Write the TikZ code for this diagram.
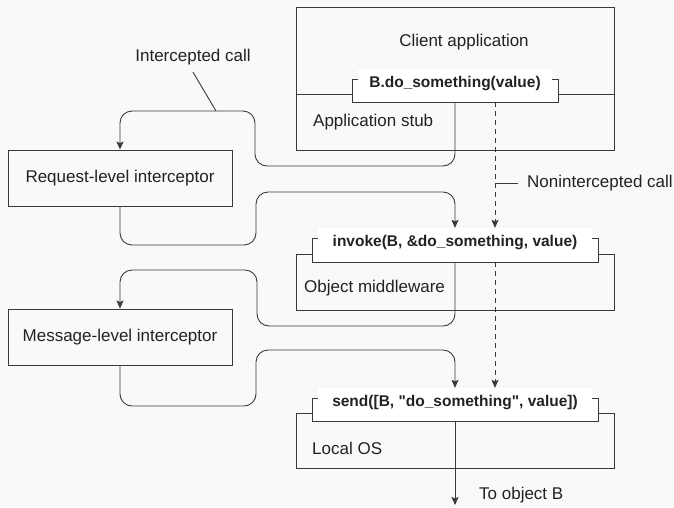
\documentclass[tikz,border=0pt]{standalone}
\usepackage{fontspec}
\setmainfont{Liberation Sans}
\usetikzlibrary{arrows.meta,positioning}

\definecolor{ink}{HTML}{222222}
\definecolor{wire}{HTML}{3A3A3A}
\definecolor{paper}{HTML}{F9F9F9}

\begin{document}
\begin{tikzpicture}[
    x=1pt, y=-1pt,
    layer/.style={draw=wire, line width=0.9pt, inner sep=0pt},
    callbox/.style={draw=wire, fill=white, line width=0.9pt, inner sep=0pt},
    calltxt/.style={fill=white, text=ink, inner xsep=0pt, inner ysep=3pt,
                    text height=15pt, text depth=3.5pt,
                    font=\fontsize{15.5}{18}\selectfont\bfseries},
    txt/.style={text=ink, inner sep=2pt, font=\fontsize{17}{20}\selectfont},
    arrow/.style={-{Stealth[length=8pt,width=7pt,inset=1.5pt]}, draw=wire,
                  line width=0.9pt, rounded corners=12pt},
    plain/.style={draw=wire, line width=0.9pt},
    noncall/.style={-{Stealth[length=8pt,width=7pt,inset=1.5pt]}, draw=wire,
                    line width=0.9pt, dash pattern=on 5pt off 4pt},
  ]
  \path[use as bounding box, fill=paper] (0,0) rectangle (674,507);

  \node[layer, minimum width=318pt, minimum height=143pt] (client) at (455,78.5) {};
  \node[layer, minimum width=318pt, minimum height=56pt] (mw) at (455,282) {};
  \node[layer, minimum width=318pt, minimum height=55pt] (os) at (455,440.5) {};
  \node[layer, minimum width=224pt, minimum height=56pt] (req) at (120,178) {};
  \node[layer, minimum width=224pt, minimum height=56pt] (msg) at (120,337) {};
  \draw[plain] ([yshift=-15.5pt]client.west) -- ([yshift=-15.5pt]client.east);

  \node[callbox, minimum width=206pt, minimum height=23pt] (callA) at (455,90.5) {};
  \node[callbox, minimum width=286pt, minimum height=24pt] (callB) at (455,250) {};
  \node[callbox, minimum width=286pt, minimum height=23pt] (callC) at (455,409.5) {};
  \node[calltxt, minimum width=194pt, anchor=base, yshift=-8.5pt] (txtA) at (callA.north)
    {B.do\_something(value)};
  \node[calltxt, minimum width=274pt, anchor=base, yshift=-8.5pt] (txtB) at (callB.north)
    {invoke(B, \&do\_something, value)};
  \node[calltxt, minimum width=274pt, anchor=base, yshift=-8.5pt] (txtC) at (callC.north)
    {send([B, \textquotedbl do\_something\textquotedbl, value])};

  \node[txt] (clientlbl) at (464,42) {Client application};
  \node[txt, anchor=west] (stub) at (311,122) {Application stub};
  \node[txt, anchor=west] (mwlbl) at (302,288) {Object middleware};
  \node[txt, anchor=west] (oslbl) at (310,448) {Local OS};
  \node[txt] (reqlbl) at (req.center) {Request-level interceptor};
  \node[txt] (msglbl) at (msg.center) {Message-level interceptor};
  \node[txt] (icall) at (193,57) {Intercepted call};
  \node[txt, anchor=west] (nonint) at (525,183) {Nonintercepted call};
  \node[txt, anchor=west] (tob) at (477,495) {To object B};

  \coordinate (dcol) at (495,0);
  \coordinate (ihit) at (216,111);
  \coordinate (dest) at (455,505);

  \draw[arrow] (callA.south) -- (455,166) -- (255,166) -- (255,111) -- (120,111) -- (req.north);
  \draw[arrow] (req.south) -- (120,245) -- (256,245) -- (256,192) -- (455,192) -- (txtB.north);
  \draw[arrow] (callB.south) -- (455,326) -- (257,326) -- (257,270) -- (120,270) -- (msg.north);
  \draw[arrow] (msg.south) -- (120,406) -- (256,406) -- (256,350) -- (455,350) -- (txtC.north);
  \draw[arrow] (callC.south) -- (dest);

  \draw[noncall] (callA.south -| dcol) -- (txtB.north -| dcol);
  \draw[noncall] (callB.south -| dcol) -- (txtC.north -| dcol);

  \draw[plain] ([yshift=-5pt]icall.south) -- (ihit);
  \draw[plain] ([xshift=-7pt]nonint.west) -- (nonint.west -| dcol);
\end{tikzpicture}
\end{document}
